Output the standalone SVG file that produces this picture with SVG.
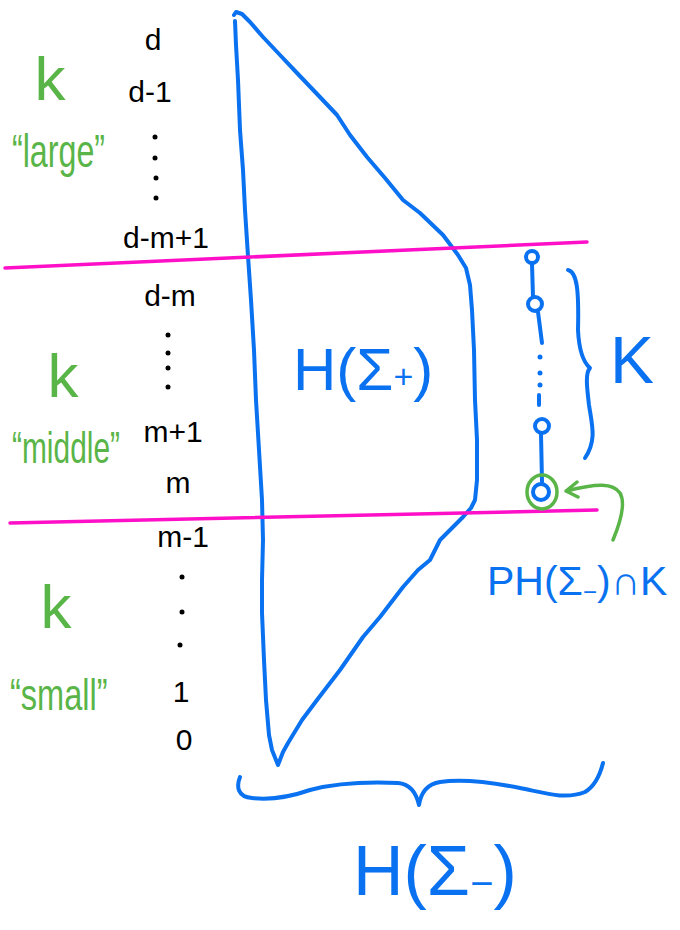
<svg xmlns="http://www.w3.org/2000/svg" width="680" height="930" viewBox="0 0 680 930">
<style>
.bl{fill:none;stroke:#0a72f0;stroke-width:4;stroke-linecap:round;stroke-linejoin:round}
.gr{fill:none;stroke:#5ab548;stroke-width:3.5;stroke-linecap:round;stroke-linejoin:round}
.mg{fill:none;stroke:#ff10c8;stroke-width:3.5;stroke-linecap:round}
.lbl{font-family:"Liberation Sans","DejaVu Sans",sans-serif;fill:#000;font-size:30px;text-anchor:middle}
.glbl{font-family:"Liberation Sans","DejaVu Sans",sans-serif;fill:#5ab548}
.blbl{font-family:"Liberation Sans","DejaVu Sans",sans-serif;fill:#0a72f0}
.dot{fill:#000}
</style>
<rect width="680" height="930" fill="#fff"/>

<g id="H-sigma-plus-shape">
<path class="bl" d="M235,21 L236,45 L238,80 L240,130 L243,170 L245,210 L248,256 L251,300 L254,350 L256,400 L259,450 L262,500 L263,540 L262,580 L262,613 L264,660 L266,700 L269,735 L272,750 L278,765 L283,752 L288,743 L302,720 L317,700 L340,670 L363,637 L380,617 L403,587 L418,570 L430,560 L440,540 L452,528 L463,517 L471,508 L475,500 L477,480 L477,440 L475,400 L474,350 L472,310 L470,285 L466,268 L458,255 L443,235 L420,213 L403,200 L385,178 L367,157 L350,135 L337,115 L318,95 L297,73 L280,55 L263,37 L250,22 L242,14 L236,12 L234,15"/>
</g>

<g id="levels">
<path class="mg" d="M5,268 L587,242"/>
<path class="mg" d="M10,523 L597,510"/>
</g>

<g id="degree-labels">
<text class="lbl" x="153" y="50">d</text>
<text class="lbl" x="150" y="102">d-1</text>
<circle class="dot" cx="155" cy="137" r="2.5"/><circle class="dot" cx="155" cy="158" r="2.5"/><circle class="dot" cx="156" cy="178" r="2.5"/><circle class="dot" cx="156" cy="198" r="2.5"/>
<text class="lbl" x="166" y="248" font-size="27">d-m+1</text>
<text class="lbl" x="170" y="306">d-m</text>
<circle class="dot" cx="168" cy="335" r="2.5"/><circle class="dot" cx="168" cy="353" r="2.5"/><circle class="dot" cx="168" cy="368" r="2.5"/><circle class="dot" cx="168" cy="387" r="2.5"/>
<text class="lbl" x="173" y="442" font-size="28">m+1</text>
<text class="lbl" x="178" y="493" font-size="34">m</text>
<text class="lbl" x="183" y="547" font-size="28">m-1</text>
<circle class="dot" cx="182" cy="577" r="2.5"/><circle class="dot" cx="182" cy="612" r="2.5"/><circle class="dot" cx="180" cy="645" r="2.5"/>
<text class="lbl" x="181" y="702">1</text>
<text class="lbl" x="184" y="750">0</text>
</g>

<g id="k-large">
<text class="glbl" x="50" y="100" font-size="62" text-anchor="middle">k</text>
<text class="glbl" transform="translate(12,167) scale(0.7,1)" font-size="46">“large”</text>
</g>
<g id="k-middle">
<text class="glbl" x="63" y="397" font-size="62" text-anchor="middle">k</text>
<text class="glbl" transform="translate(12,463) scale(0.68,1)" font-size="44">“middle”</text>
</g>
<g id="k-small">
<text class="glbl" x="56" y="628" font-size="62" text-anchor="middle">k</text>
<text class="glbl" transform="translate(10,710) scale(0.74,1)" font-size="44">“small”</text>
</g>

<g id="H-sigma-plus-label">
<text class="blbl" x="293" y="390" font-size="60">H(Σ<tspan font-size="34" dy="-2">+</tspan><tspan dy="2">)</tspan></text>
</g>

<g id="chain-K">
<circle class="bl" cx="532" cy="257" r="6"/>
<path class="bl" d="M532,264 L533,297"/>
<circle class="bl" cx="535" cy="304" r="7"/>
<path class="bl" d="M538,312 L542,343"/>
<circle cx="540" cy="357" r="2.5" fill="#0a72f0"/><circle cx="540" cy="373" r="2.5" fill="#0a72f0"/><circle cx="540" cy="385" r="2.5" fill="#0a72f0"/>
<path class="bl" d="M539,395 L539,405"/>
<circle class="bl" cx="542" cy="426" r="7"/>
<path class="bl" d="M541,434 L542,482"/>
<circle class="bl" cx="541" cy="492" r="8"/>
<path class="bl" d="M568,270 C577,272 579,290 578,330 C579,350 583,362 590,368 C585,373 587,388 589,405 C592,425 597,440 585,458"/>
<text class="blbl" x="610" y="383" font-size="66">K</text>
</g>

<g id="PH-intersect-K">
<ellipse class="gr" cx="542" cy="492" rx="15" ry="17"/>
<path class="gr" d="M613,540 C618,528 627,505 620,493 C613,483 598,483 566,491 M577,482 L566,491 L578,497"/>
<text class="blbl" x="487" y="595" font-size="41">PH(Σ<tspan font-size="24" dy="5">−</tspan><tspan dy="-5">)∩K</tspan></text>
</g>

<g id="H-sigma-minus">
<path class="bl" d="M240,777 C236,787 238,797 252,798 C270,800 290,797 310,790 C340,782 375,782 398,783 C410,784 416,792 419,805 C421,792 428,784 440,782 C460,779 490,782 520,788 C545,793 565,800 585,792 C595,786 600,775 603,763"/>
<text class="blbl" x="353" y="895" font-size="70">H(Σ<tspan font-size="40" dy="2">−</tspan><tspan dy="-2">)</tspan></text>
</g>
</svg>
